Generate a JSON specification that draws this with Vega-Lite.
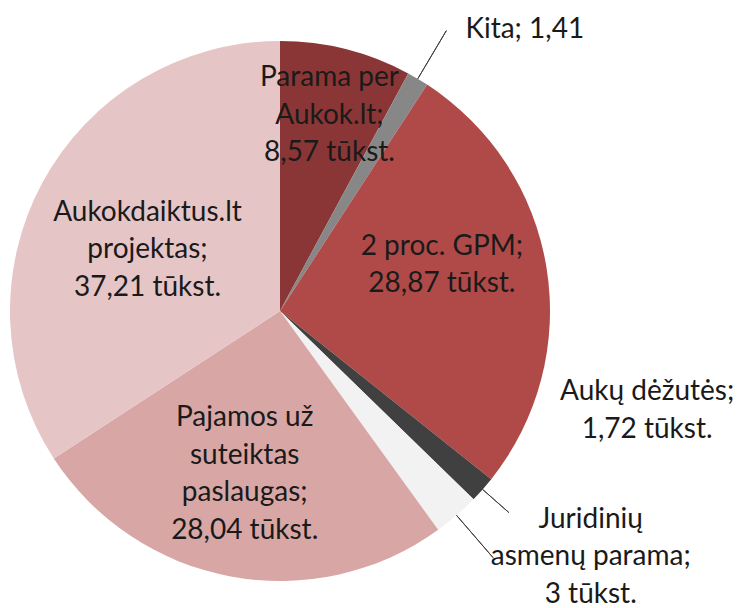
{
  "$schema": "https://vega.github.io/schema/vega-lite/v6.json",
  "width": 560,
  "height": 622,
  "autosize": "none",
  "padding": {"left": 0, "top": 0, "right": 178, "bottom": 0},
  "background": "white",
  "config": {"view": {"stroke": null}, "text": {"font": "Lato", "fontSize": 28, "lineBreak": "\n", "lineHeight": 37.5, "fill": "#1a1a1a"}},
  "data": {"values": [
    {"name": "Parama per Aukok.lt", "value": 8.57, "label": "Parama per\nAukok.lt;\n8,57 tūkst.", "order": 1},
    {"name": "Kita", "value": 1.41, "label": "Kita; 1,41", "order": 2},
    {"name": "2 proc. GPM", "value": 28.87, "label": "2 proc. GPM;\n28,87 tūkst.", "order": 3},
    {"name": "Aukų dėžutės", "value": 1.72, "label": "Aukų dėžutės;\n1,72 tūkst.", "order": 4},
    {"name": "Juridinių asmenų parama", "value": 3, "label": "Juridinių\nasmenų parama;\n3 tūkst.", "order": 5},
    {"name": "Pajamos už suteiktas paslaugas", "value": 28.04, "label": "Pajamos už\nsuteiktas\npaslaugas;\n28,04 tūkst.", "order": 6},
    {"name": "Aukokdaiktus.lt projektas", "value": 37.21, "label": "Aukokdaiktus.lt\nprojektas;\n37,21 tūkst.", "order": 7}
  ]},
  "encoding": {
    "theta": {"field": "value", "type": "quantitative", "stack": true},
    "order": {"field": "order", "type": "quantitative"}
  },
  "layer": [
    {
      "mark": {"type": "arc", "radius": 270},
      "encoding": {
        "color": {"field": "name", "type": "nominal", "legend": null,
          "scale": {"domain": ["Parama per Aukok.lt", "Kita", "2 proc. GPM", "Aukų dėžutės", "Juridinių asmenų parama", "Pajamos už suteiktas paslaugas", "Aukokdaiktus.lt projektas"],
                    "range": ["#8B3636", "#878787", "#B04A48", "#404040", "#F2F2F2", "#D9A6A6", "#E6C5C6"]}}
      }
    },
    {
      "mark": {"type": "arc", "radius": 326, "radius2": 270, "padAngle": 1, "filled": false, "stroke": "#404040", "strokeWidth": 1},
      "encoding": {
        "strokeOpacity": {"condition": {"test": "datum.name === 'Kita' || datum.name === 'Juridinių asmenų parama'", "value": 1}, "value": 0}
      }
    },
    {
      "mark": {"type": "arc", "radius": 305, "radius2": 270, "padAngle": 1, "filled": false, "stroke": "#404040", "strokeWidth": 1},
      "encoding": {
        "strokeOpacity": {"condition": {"test": "datum.name === 'Aukų dėžutės'", "value": 1}, "value": 0}
      }
    },
    {
      "mark": {"type": "text", "radius": 202, "dx": 0, "dy": -37},
      "encoding": {"text": {"condition": {"test": "datum.name === 'Parama per Aukok.lt'", "field": "label"}, "value": ""}}
    },
    {
      "mark": {"type": "text", "radius": 330, "align": "left", "dx": 17, "dy": 3},
      "encoding": {"text": {"condition": {"test": "datum.name === 'Kita'", "field": "label"}, "value": ""}}
    },
    {
      "mark": {"type": "text", "radius": 164, "dx": 0, "dy": -38},
      "encoding": {"text": {"condition": {"test": "datum.name === '2 proc. GPM'", "field": "label"}, "value": ""}}
    },
    {
      "mark": {"type": "text", "radius": 300, "dx": 142, "dy": -117},
      "encoding": {"text": {"condition": {"test": "datum.name === 'Aukų dėžutės'", "field": "label"}, "value": ""}}
    },
    {
      "mark": {"type": "text", "radius": 330, "dx": 95, "dy": -41},
      "encoding": {"text": {"condition": {"test": "datum.name === 'Juridinių asmenų parama'", "field": "label"}, "value": ""}}
    },
    {
      "mark": {"type": "text", "radius": 166, "dx": -5, "dy": -56},
      "encoding": {"text": {"condition": {"test": "datum.name === 'Pajamos už suteiktas paslaugas'", "field": "label"}, "value": ""}}
    },
    {
      "mark": {"type": "text", "radius": 145, "dx": -5, "dy": -29},
      "encoding": {"text": {"condition": {"test": "datum.name === 'Aukokdaiktus.lt projektas'", "field": "label"}, "value": ""}}
    }
  ]
}
